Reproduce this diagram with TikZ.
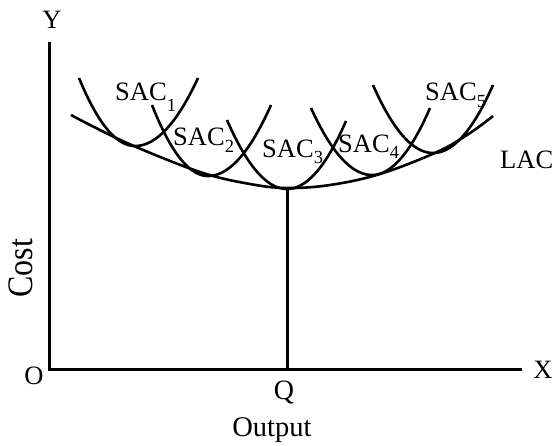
\documentclass[tikz,border=0pt]{standalone}
\usepackage{fontspec}
\setmainfont{Liberation Serif}
\newcommand\sacurve[6]{%
  \draw[curve] plot[domain=#1:#3,samples=40] (\x,{#4+(#2-#4)*((\x-#3)/(#1-#3))^2})
    -- plot[domain=#3:#5,samples=40] (\x,{#4+(#6-#4)*((\x-#3)/(#5-#3))^2});}
\newcommand\subn[2][7pt]{\raisebox{-#1}{\fontsize{18.5}{18.5}\selectfont #2}}
\begin{document}
\begin{tikzpicture}[x=1pt,y=-1pt,
  axis/.style={line width=3pt},
  curve/.style={line width=2.6pt,line join=round},
  lab/.style={inner sep=0pt,font=\fontsize{26.5}{30}\selectfont},
  sac/.style={lab,anchor=base west}]
\useasboundingbox (0,0) rectangle (554,445);
% axes
\coordinate (O) at (49,369);
\coordinate (Ytop) at (49,42);
\coordinate (Xend) at (522,369);
\coordinate (Qbot) at (287,369);
\coordinate (Qtop) at (287,188);
\draw[axis] (Ytop) -- (O) -- (Xend);
\draw[axis] (Qtop) -- (Qbot);
% LAC
\draw[curve] plot[smooth,tension=0.6] coordinates {(71,115) (127,143) (200,172) (250,184) (287,188) (330,185) (380,174) (437,152) (470,133) (493,116)};
% SAC curves
\sacurve{79}{78}{135}{146}{198}{78}
\sacurve{152}{105}{208}{176}{271}{105}
\sacurve{227}{120}{287}{189}{346}{121}
\sacurve{311}{108}{372}{175}{430}{108}
\sacurve{373}{85}{433}{153}{493}{85}
% labels
\node[lab,anchor=base] (ly) at (52,28) {Y};
\node[lab,anchor=base] (lo) at (34,384) {O};
\node[lab,anchor=base] (lx) at (543,378) {X};
\node[lab,anchor=base,font=\fontsize{28}{30}\selectfont] (lq) at (284,399) {Q};
\node[lab,anchor=base,font=\fontsize{28.5}{30}\selectfont] (lout) at (272,436) {Output};
\node[lab,rotate=90] (lcost) at (21,268) {\fontsize{32}{32}\selectfont\scalebox{1}[1.12]{Cost}};
\node[sac] (s1) at (115,100) {SAC\subn[11pt]{1}};
\node[sac] (s2) at (173,145) {SAC\subn{2}};
\node[sac] (s3) at (262,157) {SAC\subn[6pt]{3}};
\node[sac] (s4) at (338,152) {SAC\subn[6pt]{4}};
\node[sac] (s5) at (425,100) {SAC\subn{5}};
\node[sac] (lac) at (500,168) {LAC};
\end{tikzpicture}
\end{document}
